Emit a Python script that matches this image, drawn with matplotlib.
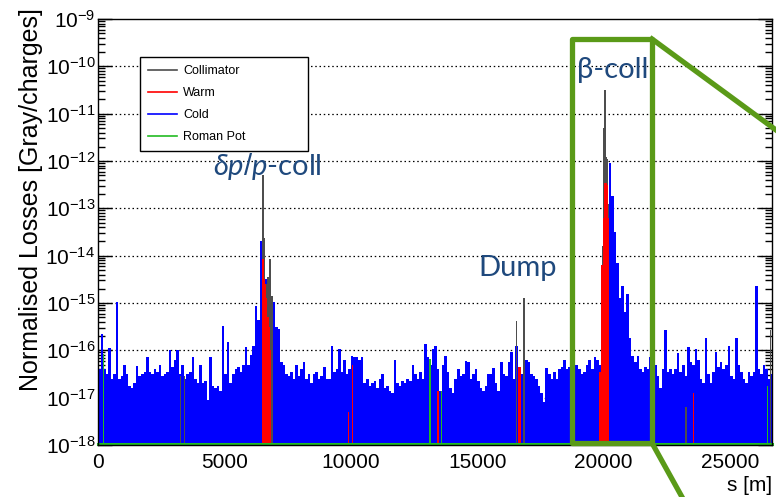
import numpy as np
import matplotlib
matplotlib.use("Agg")
import matplotlib.pyplot as plt
from matplotlib.lines import Line2D
from matplotlib.patches import Rectangle

plt.rcParams['font.family'] = ['Liberation Sans', 'DejaVu Sans']
plt.rcParams['mathtext.fontset'] = 'custom'
plt.rcParams['mathtext.rm'] = 'Liberation Sans'
plt.rcParams['mathtext.it'] = 'Lato:italic'
plt.rcParams['mathtext.fallback'] = 'stixsans'

# ---------------- data (log10 of normalised losses) ----------------
bin_width = 100  # m
cold_log = [
    -16.4, -15.65, -16.4, -16.5, -15.96, -16.6, -16.5, -14.97, -16.6, -16.55,
    -16.3, -16.5, -16.75, -16.8, -16.7, -16.34, -16.55, -16.5, -16.45, -16.15,
    -16.45, -16.5, -16.4, -16.45, -16.3, -16.55, -16.5, -16.45, -16.0, -16.35,
    -16.2, -16.0, -16.5, -16.3, -16.6, -16.5, -16.45, -16.15, -16.6, -16.7,
    -16.3, -16.7, -16.65, -17.05, -16.15, -16.75, -16.8, -16.75, -16.85, -15.48,
    -16.5, -15.82, -16.7, -16.5, -16.4, -16.35, -16.45, -16.3, -15.94, -16.3,
    -16.1, -15.9, -15.07, -15.35, -13.69, -14.5, -14.5, -14.8, -15.2, -14.97,
    -15.5, -15.55, -16.25, -16.3, -16.5, -16.55, -16.45, -16.6, -16.3, -16.55,
    -16.4, -16.25, -16.6, -16.5, -16.7, -16.5, -16.45, -16.6, -16.55, -16.35,
    -16.6, -16.6, -15.9, -16.45, -16.4, -15.97, -16.45, -16.2, -16.5, -16.4,
    -16.13, -16.15, -16.15, -16.2, -16.15, -16.7, -16.6, -16.75, -16.7, -16.65,
    -16.8, -16.6, -16.5, -16.8, -16.75, -16.85, -16.9, -16.2, -16.7, -16.75,
    -16.65, -16.7, -16.6, -16.65, -16.32, -16.5, -16.6, -16.45, -16.6, -15.87,
    -16.15, -16.3, -15.97, -15.9, -16.4, -16.85, -16.3, -16.11, -16.45, -16.8,
    -16.9, -16.6, -16.4, -16.55, -16.5, -16.22, -16.25, -16.6, -16.5, -16.4,
    -16.65, -16.8, -16.85, -16.75, -16.5, -16.5, -16.38, -16.7, -16.85, -16.25,
    -16.5, -16.55, -16.25, -16.03, -16.6, -15.9, -16.4, -16.5, -15.54, -16.2,
    -16.25, -16.5, -16.55, -16.6, -16.75, -16.9, -17.1, -16.38, -16.5, -16.6,
    -16.45, -16.6, -16.4, -16.35, -16.2, -16.4, -16.35, -16.25, -16.3, -16.3,
    -16.4, -16.5, -16.45, -16.3, -16.2, -16.4, -16.15, -16.2, -16.3, -16.3,
    -14.5, -14.0, -12.04, -12.74, -13.49, -14.15, -14.9, -14.64, -15.2, -14.8,
    -15.75, -16.12, -16.25, -16.13, -16.4, -16.45, -16.35, -16.4, -16.15, -16.5,
    -16.3, -16.55, -16.8, -16.4, -15.58, -16.45, -16.4, -16.5, -16.4, -16.06,
    -16.45, -16.3, -16.55, -15.94, -16.25, -16.3, -15.97, -16.2, -16.6, -16.7,
    -15.73, -16.5, -16.7, -16.45, -16.04, -16.35, -16.25, -16.4, -16.3, -15.9,
    -16.55, -16.6, -15.73, -16.3, -16.45, -16.6, -16.7, -16.45, -16.55, -16.45,
    -14.65, -16.4, -16.5, -16.3, -16.4, -16.6, -16.5,
]

coll_s = [3254, 3425, 6520, 6590, 6650, 6720, 6800, 6890, 16547, 16851,
          19960, 20010, 20050, 20100, 20150, 20200, 23267, 26600]
coll_log = [-16.55, -16.55, -12.3, -13.62, -14.6, -14.46, -14.06, -14.85, -15.39, -14.9,
            -13.8, -11.3, -10.51, -11.91, -11.95, -12.9, -17.2, -15.58]

warm_s = [6520, 6570, 6620, 6670, 6720, 6770, 6810, 9907, 10060, 13450, 16650, 16720,
          19840, 19890, 19940, 19990, 20040, 20090, 20140, 20190, 23556]
warm_log = [-14.08, -14.5, -14.6, -14.9, -15.3, -15.5, -16.0, -17.3, -16.31, -16.85, -16.36, -16.36,
            -16.45, -16.45, -14.2, -13.2, -12.46, -12.46, -12.5, -13.2, -16.9]

rp_s = [210, 13134, 13571, 26495]
rp_log = [-16.08, -16.18, -16.85, -16.75]

labels = ["Collimator", "Warm", "Cold", "Roman Pot"]
colors = ["#4d4d4d", "#ff0000", "#0000ff", "#22bb22"]

ymin, ymax = 1e-18, 1e-9
s_max = 26659

# ---------------- figure ----------------
W, H = 776, 497
fig = plt.figure(figsize=(W / 100, H / 100), dpi=100)
ax = fig.add_axes([98 / W, 1 - 445 / H, 674 / W, 426 / H])
ax.set_yscale('log')
ax.set_xlim(0, s_max)
ax.set_ylim(ymin, ymax)

cold = 10 ** np.array(cold_log)
edges = np.arange(len(cold) + 1) * bin_width
ax.stairs(cold, edges, baseline=ymin, fill=True, color=colors[2], lw=0, zorder=2)

coll = 10 ** np.array(coll_log)
ax.bar(coll_s, coll - ymin, bottom=ymin, width=60, color=colors[0], lw=0, zorder=3)
warm = 10 ** np.array(warm_log)
ax.bar(warm_s, warm - ymin, bottom=ymin, width=55, color=colors[1], lw=0, zorder=4)
rp = 10 ** np.array(rp_log)
ax.bar(rp_s, rp - ymin, bottom=ymin, width=45, color=colors[3], lw=0, zorder=5)
ax.axhline(ymin * 1.04, color=colors[3], lw=2.2, zorder=5, clip_on=False)

# grid
for k in range(-17, -9):
    ax.axhline(10.0 ** k, color='black', lw=0.9, ls=(0, (1.2, 2.2)), zorder=1)

# axes styling
for sp in ax.spines.values():
    sp.set_linewidth(1.0)
    sp.set_zorder(6)
ax.set_yticks([10.0 ** k for k in range(-18, -8)])
ax.tick_params(axis='y', which='major', direction='in', length=10, width=1,
               labelsize=15, pad=2, right=True)
ax.tick_params(axis='y', which='minor', direction='in', length=5, width=1, right=True)
ax.set_xticks([0, 5000, 10000, 15000, 20000, 25000])
ax.tick_params(axis='x', which='both', length=0, labelsize=15, pad=6)

ax.set_ylabel("Normalised Losses [Gray/charges]", fontsize=18, loc='top')
ax.yaxis.set_label_coords(-0.081, 1.026)
ax.set_xlabel("s [m]", fontsize=15, loc='right')
ax.xaxis.set_label_coords(1.0, -0.072)

# legend
handles = [Line2D([], [], color=c, lw=1.2) for c in colors]
leg = ax.legend(handles, labels, loc='upper left',
                bbox_to_anchor=(42 / 674, 1 - 128 / 426, 168 / 674, 90 / 426),
                mode='expand', fontsize=9, frameon=True, fancybox=False,
                edgecolor='black', framealpha=1, borderpad=0.65,
                handlelength=2.3, handletextpad=0.5, labelspacing=0.8,
                borderaxespad=0)
leg.get_frame().set_linewidth(1.0)
leg.set_zorder(10)

# annotations
ann_color = "#1f497d"
fig.text(213 / W, 1 - 175 / H, r"$\delta p/p$-coll", color=ann_color, fontsize=21,
         family='Lato', va='baseline', ha='left')
fig.text(577 / W, 1 - 78 / H, "β-coll", color=ann_color, fontsize=21,
         family=['Lato', 'DejaVu Sans'], va='baseline', ha='left')
fig.text(478 / W, 1 - 276 / H, "Dump", color=ann_color, fontsize=21,
         family='Lato', va='baseline', ha='left')

# green zoom box
gcol = "#5a9a18"
x0 = 572; x1 = 652; y0 = 39; y1 = 443
fig.add_artist(Rectangle((x0 / W, 1 - y1 / H), (x1 - x0) / W, (y1 - y0) / H,
                         fill=False, ec=gcol, lw=3.8, zorder=20, joinstyle='round'))
fig.add_artist(Line2D([x1 / W, 1.0], [1 - y0 / H, 1 - 130 / H], color=gcol, lw=3.8, zorder=20))
fig.add_artist(Line2D([x1 / W, 682 / W], [1 - y1 / H, 0.0], color=gcol, lw=3.8, zorder=20))

fig.savefig("out.png", dpi=100)
